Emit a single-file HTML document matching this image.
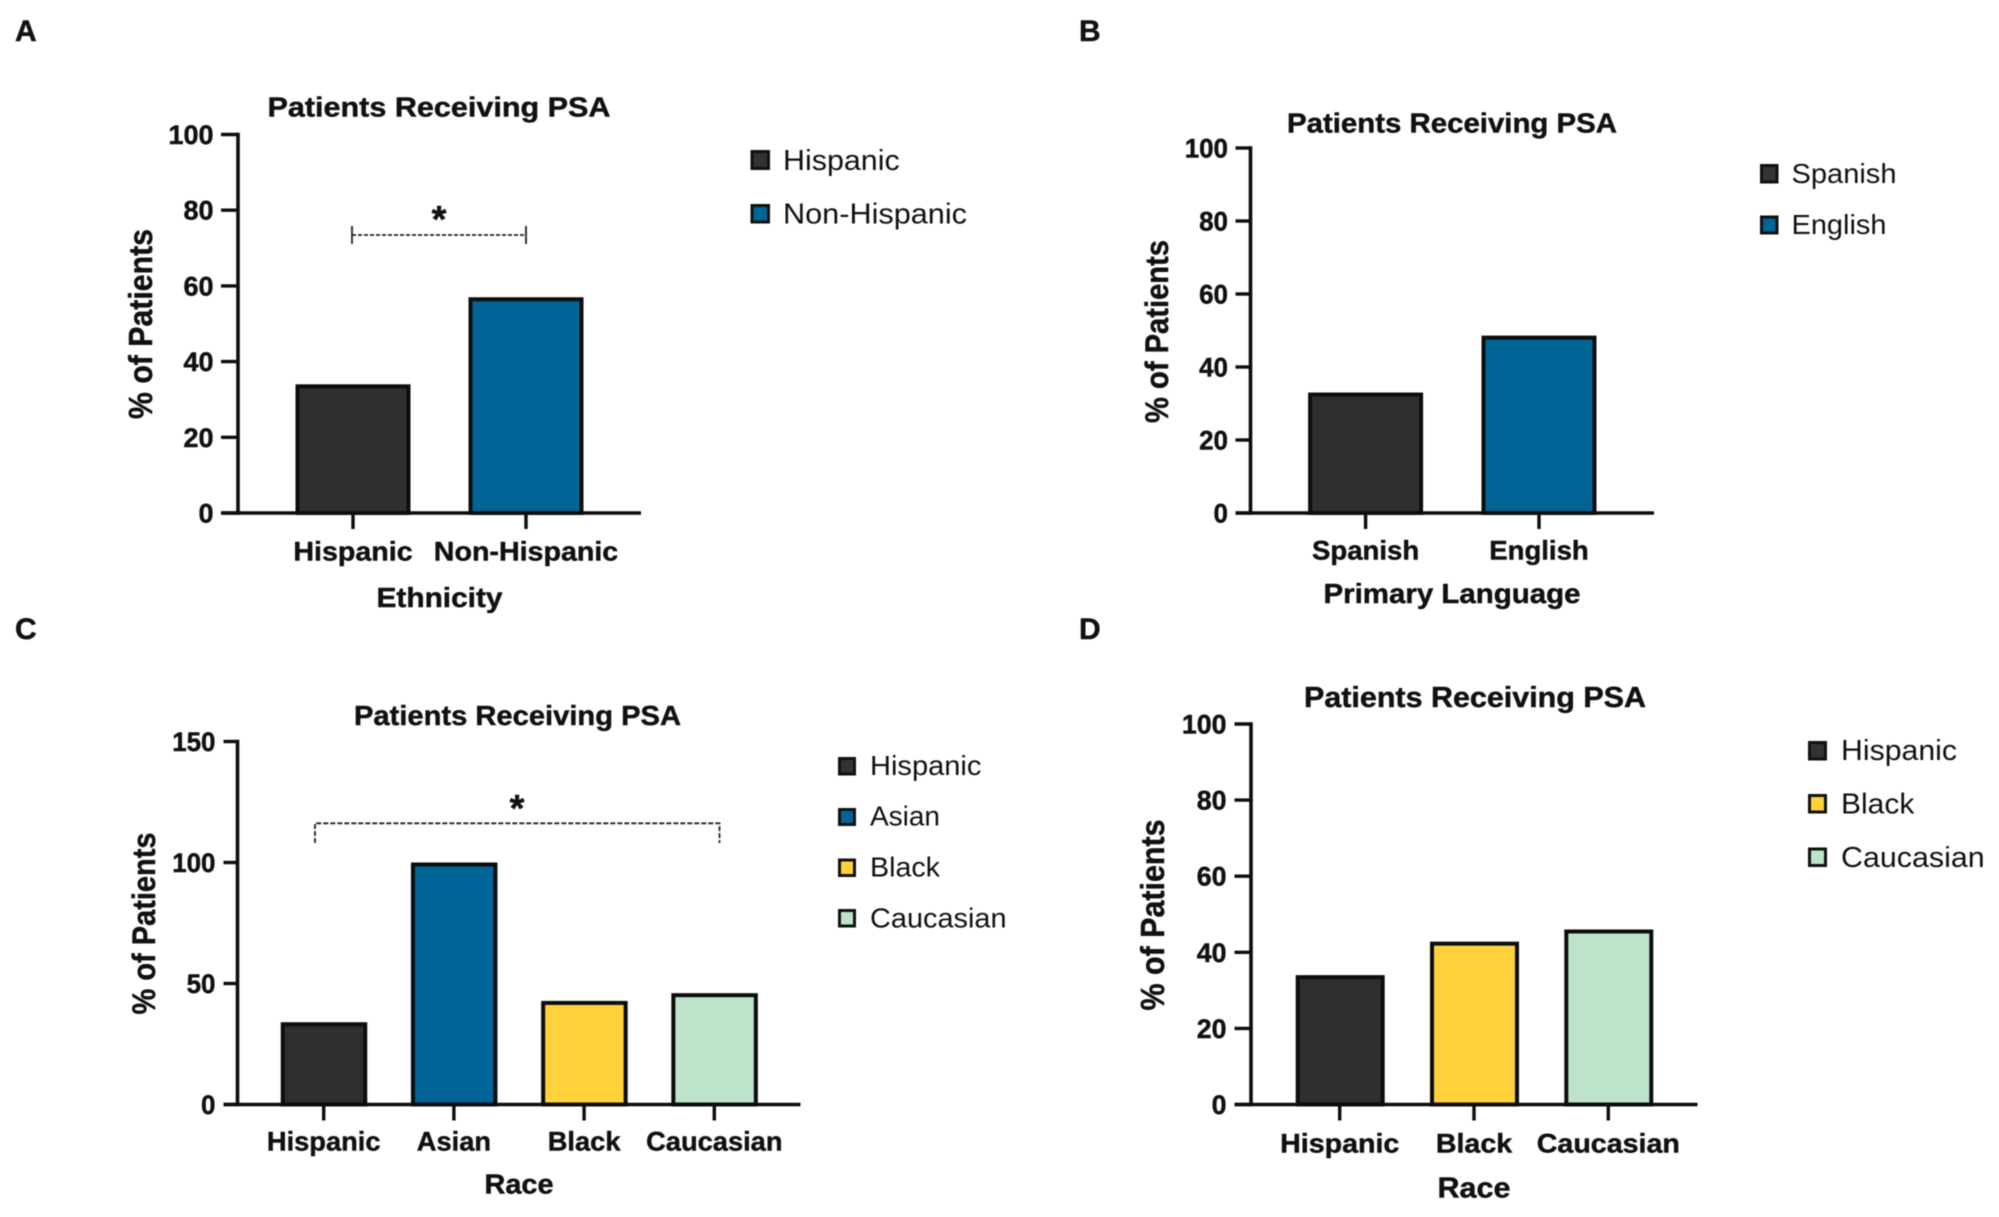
<!DOCTYPE html>
<html lang="en">
<head>
<meta charset="utf-8">
<title>Patients Receiving PSA</title>
<style>
html,body{margin:0;padding:0;background:#fff;width:1999px;height:1217px;overflow:hidden}
svg{display:block;filter:blur(0.55px)}
text{font-family:"Liberation Sans",sans-serif;fill:#111}
.b{font-weight:700;stroke:#111;stroke-width:.45px}
</style>
</head>
<body>
<svg id="fig" xmlns="http://www.w3.org/2000/svg" width="1999" height="1217" viewBox="0 0 1999 1217">
<rect x="0" y="0" width="1999" height="1217" fill="#fff"/>

<text class="b" x="15" y="41" font-size="30">A</text>
<text class="b" x="1079" y="41" font-size="30">B</text>
<text class="b" x="15" y="639" font-size="30">C</text>
<text class="b" x="1079" y="639" font-size="30">D</text>

<g id="panel-a">
<text class="b" x="439" y="116.5" font-size="28" text-anchor="middle" textLength="343" lengthAdjust="spacingAndGlyphs">Patients Receiving PSA</text>
<text class="b" transform="translate(152,324) rotate(-90)" font-size="33" text-anchor="middle" textLength="190" lengthAdjust="spacingAndGlyphs">% of Patients</text>
<text class="b" x="439.5" y="607" font-size="28" text-anchor="middle" textLength="126" lengthAdjust="spacingAndGlyphs">Ethnicity</text>
<g stroke="#222" fill="none">
<line x1="352" x2="526" y1="235" y2="235" stroke-width="1.8" stroke-dasharray="4 2"/>
<line x1="352" x2="352" y1="226" y2="244" stroke-width="1.8"/>
<line x1="526" x2="526" y1="226" y2="244" stroke-width="1.8"/>
</g>
<text class="b" x="439" y="232" font-size="38" text-anchor="middle">*</text>
<g>
<rect x="752" y="151.5" width="16.5" height="17" fill="#333" stroke="#111" stroke-width="3"/>
<text x="783" y="170" font-size="28.5" textLength="116.7" lengthAdjust="spacingAndGlyphs">Hispanic</text>
<rect x="752" y="205.5" width="16.5" height="16.5" fill="#006496" stroke="#111" stroke-width="3"/>
<text x="783" y="223.5" font-size="28.5" textLength="184" lengthAdjust="spacingAndGlyphs">Non-Hispanic</text>
</g>
</g>

<g id="panel-b">
<text class="b" x="1452" y="132.5" font-size="28" text-anchor="middle" textLength="330" lengthAdjust="spacingAndGlyphs">Patients Receiving PSA</text>
<text class="b" transform="translate(1168,331.5) rotate(-90)" font-size="32" text-anchor="middle" textLength="183" lengthAdjust="spacingAndGlyphs">% of Patients</text>
<text class="b" x="1452" y="603" font-size="28" text-anchor="middle" textLength="257" lengthAdjust="spacingAndGlyphs">Primary Language</text>
<g>
<rect x="1761.5" y="165.5" width="15.5" height="16.5" fill="#333" stroke="#111" stroke-width="3"/>
<text x="1791.5" y="183" font-size="28" textLength="105" lengthAdjust="spacingAndGlyphs">Spanish</text>
<rect x="1761.5" y="217" width="15.5" height="16" fill="#006496" stroke="#111" stroke-width="3"/>
<text x="1791.5" y="234" font-size="28" textLength="95" lengthAdjust="spacingAndGlyphs">English</text>
</g>
</g>

<g id="panel-c">
<text class="b" x="517.5" y="725" font-size="28" text-anchor="middle" textLength="327" lengthAdjust="spacingAndGlyphs">Patients Receiving PSA</text>
<text class="b" transform="translate(155,923.5) rotate(-90)" font-size="32" text-anchor="middle" textLength="182" lengthAdjust="spacingAndGlyphs">% of Patients</text>
<text class="b" x="519" y="1193.5" font-size="28" text-anchor="middle" textLength="69" lengthAdjust="spacingAndGlyphs">Race</text>
<g stroke="#222" fill="none">
<path d="M315 843V823.3H719.5V843" stroke-width="1.8" stroke-dasharray="5 2"/>
</g>
<text class="b" x="517" y="821" font-size="38" text-anchor="middle">*</text>
<g>
<rect x="839.5" y="758.5" width="15" height="15.5" fill="#333" stroke="#111" stroke-width="3"/>
<text x="870" y="775" font-size="28" textLength="111.4" lengthAdjust="spacingAndGlyphs">Hispanic</text>
<rect x="839.5" y="809.5" width="15" height="15" fill="#006496" stroke="#111" stroke-width="3"/>
<text x="870" y="825.5" font-size="28" textLength="70" lengthAdjust="spacingAndGlyphs">Asian</text>
<rect x="839.5" y="860" width="15" height="15.5" fill="#ffd23c" stroke="#111" stroke-width="3"/>
<text x="870" y="876.5" font-size="28" textLength="70" lengthAdjust="spacingAndGlyphs">Black</text>
<rect x="839.5" y="910.5" width="15" height="15.5" fill="#bde4ca" stroke="#111" stroke-width="3"/>
<text x="870" y="927.5" font-size="28" textLength="136.6" lengthAdjust="spacingAndGlyphs">Caucasian</text>
</g>
</g>

<g id="panel-d">
<text class="b" x="1475" y="707" font-size="28.5" text-anchor="middle" textLength="342" lengthAdjust="spacingAndGlyphs">Patients Receiving PSA</text>
<text class="b" transform="translate(1164,915) rotate(-90)" font-size="33" text-anchor="middle" textLength="191" lengthAdjust="spacingAndGlyphs">% of Patients</text>
<text class="b" x="1474" y="1197.5" font-size="28.5" text-anchor="middle" textLength="73" lengthAdjust="spacingAndGlyphs">Race</text>
<g>
<rect x="1809.5" y="742.5" width="16" height="16.5" fill="#333" stroke="#111" stroke-width="3"/>
<text x="1841" y="760" font-size="28.5" textLength="116" lengthAdjust="spacingAndGlyphs">Hispanic</text>
<rect x="1809.5" y="795.5" width="16" height="16.5" fill="#ffd23c" stroke="#111" stroke-width="3"/>
<text x="1841" y="813.5" font-size="28.5" textLength="73.4" lengthAdjust="spacingAndGlyphs">Black</text>
<rect x="1809.5" y="849" width="16" height="16.5" fill="#bde4ca" stroke="#111" stroke-width="3"/>
<text x="1841" y="867" font-size="28.5" textLength="143.7" lengthAdjust="spacingAndGlyphs">Caucasian</text>
</g>
</g>
</svg>

<script>
// Panel A data
const panelACategories = ["Hispanic", "Non-Hispanic"];
const panelAValues = [34, 57];
const panelATicks = [0, 20, 40, 60, 80, 100];
// Panel B data
const panelBCategories = ["Spanish", "English"];
const panelBValues = [33, 48.6];
const panelBTicks = [0, 20, 40, 60, 80, 100];
// Panel C data
const panelCCategories = ["Hispanic", "Asian", "Black", "Caucasian"];
const panelCValues = [34, 100, 42.8, 46];
const panelCTicks = [0, 50, 100, 150];
// Panel D data
const panelDCategories = ["Hispanic", "Black", "Caucasian"];
const panelDValues = [34, 42.8, 46];
const panelDTicks = [0, 20, 40, 60, 80, 100];

const fillByCategory = {
  "Hispanic": "#2f2f2f",
  "Spanish": "#2f2f2f",
  "Non-Hispanic": "#006496",
  "English": "#006496",
  "Asian": "#006496",
  "Black": "#ffd23c",
  "Caucasian": "#bde4ca"
};

const NS = "http://www.w3.org/2000/svg";

function slug(s) {
  return String(s).toLowerCase().replace(/[^a-z0-9]+/g, "-");
}

function drawPanel(id, categories, values, ticks, g) {
  const root = document.getElementById(id);
  const yMax = ticks[ticks.length - 1];
  const yScale = function (v) { return g.y0 - (v / yMax) * (g.y0 - g.yTop); };
  const xScale = function (i) { return g.x0 + i * g.step; };
  const sw = 4;

  categories.forEach(function (cat, i) {
    const top = yScale(values[i]) + sw / 2;
    const bar = document.createElementNS(NS, "rect");
    
    
    bar.setAttribute("x", xScale(i) + g.barOffset - g.barW / 2 + sw / 2);
    bar.setAttribute("y", top);
    bar.setAttribute("width", g.barW - sw);
    bar.setAttribute("height", Math.max(0, g.y0 - top));
    bar.setAttribute("fill", fillByCategory[cat]);
    bar.setAttribute("stroke", "#0d0d0d");
    bar.setAttribute("stroke-width", sw);
    root.appendChild(bar);

    const tick = document.createElementNS(NS, "line");
    
    
    tick.setAttribute("x1", xScale(i));
    tick.setAttribute("x2", xScale(i));
    tick.setAttribute("y1", g.y0);
    tick.setAttribute("y2", g.y0 + 16);
    tick.setAttribute("stroke", "#0d0d0d");
    tick.setAttribute("stroke-width", 3.4);
    root.appendChild(tick);

    const label = document.createElementNS(NS, "text");
    
    
    label.setAttribute("class", "b");
    label.setAttribute("font-size", 27);
    label.setAttribute("text-anchor", "middle");
    label.setAttribute("transform", "translate(" + xScale(i) + "," + g.xLabelY + ") scale(" + g.xLabelScale + ",1)");
    label.textContent = cat;
    root.appendChild(label);
  });

  ticks.forEach(function (t) {
    const tick = document.createElementNS(NS, "line");
    
    
    tick.setAttribute("x1", g.tickLeft);
    tick.setAttribute("x2", g.axisX);
    tick.setAttribute("y1", yScale(t));
    tick.setAttribute("y2", yScale(t));
    tick.setAttribute("stroke", "#0d0d0d");
    tick.setAttribute("stroke-width", 3.4);
    root.appendChild(tick);

    const label = document.createElementNS(NS, "text");
    
    
    label.setAttribute("class", "b");
    label.setAttribute("font-size", 26.5);
    label.setAttribute("text-anchor", "end");
    label.setAttribute("transform", "translate(" + g.yLabelRight + "," + (yScale(t) + 9.5) + ") scale(" + g.yLabelScale + ",1)");
    label.textContent = t;
    root.appendChild(label);
  });

  const yAxis = document.createElementNS(NS, "line");
  
  
  yAxis.setAttribute("x1", g.axisX);
  yAxis.setAttribute("x2", g.axisX);
  yAxis.setAttribute("y1", g.yTop - 1.7);
  yAxis.setAttribute("y2", g.y0 + 1.7);
  yAxis.setAttribute("stroke", "#0d0d0d");
  yAxis.setAttribute("stroke-width", 3.6);
  root.appendChild(yAxis);

  const xAxis = document.createElementNS(NS, "line");
  
  
  xAxis.setAttribute("x1", g.tickLeft);
  xAxis.setAttribute("x2", g.xEnd);
  xAxis.setAttribute("y1", g.y0);
  xAxis.setAttribute("y2", g.y0);
  xAxis.setAttribute("stroke", "#0d0d0d");
  xAxis.setAttribute("stroke-width", 3.6);
  root.appendChild(xAxis);
}

drawPanel("panel-a", panelACategories, panelAValues, panelATicks, {
  axisX: 238, tickLeft: 221, xEnd: 641, y0: 513, yTop: 134.5,
  x0: 353, step: 173, barW: 115, barOffset: 0,
  xLabelY: 560.5, xLabelScale: 1.06, yLabelRight: 213.5, yLabelScale: 1.02
});
drawPanel("panel-b", panelBCategories, panelBValues, panelBTicks, {
  axisX: 1250.5, tickLeft: 1235.5, xEnd: 1654, y0: 513, yTop: 148,
  x0: 1365.6, step: 173.4, barW: 115, barOffset: 0,
  xLabelY: 559.5, xLabelScale: 1.02, yLabelRight: 1228, yLabelScale: 0.98
});
drawPanel("panel-c", panelCCategories, panelCValues, panelCTicks, {
  axisX: 237.5, tickLeft: 223.5, xEnd: 800.5, y0: 1104.5, yTop: 741.5,
  x0: 323.7, step: 130.2, barW: 86.5, barOffset: 0.3,
  xLabelY: 1150.5, xLabelScale: 1.01, yLabelRight: 215.5, yLabelScale: 0.98
});
drawPanel("panel-d", panelDCategories, panelDValues, panelDTicks, {
  axisX: 1251, tickLeft: 1234.5, xEnd: 1697.5, y0: 1104.5, yTop: 724,
  x0: 1339.7, step: 134.3, barW: 89, barOffset: 0.5,
  xLabelY: 1152.5, xLabelScale: 1.06, yLabelRight: 1226.5, yLabelScale: 1.01
});
</script>
</body>
</html>
